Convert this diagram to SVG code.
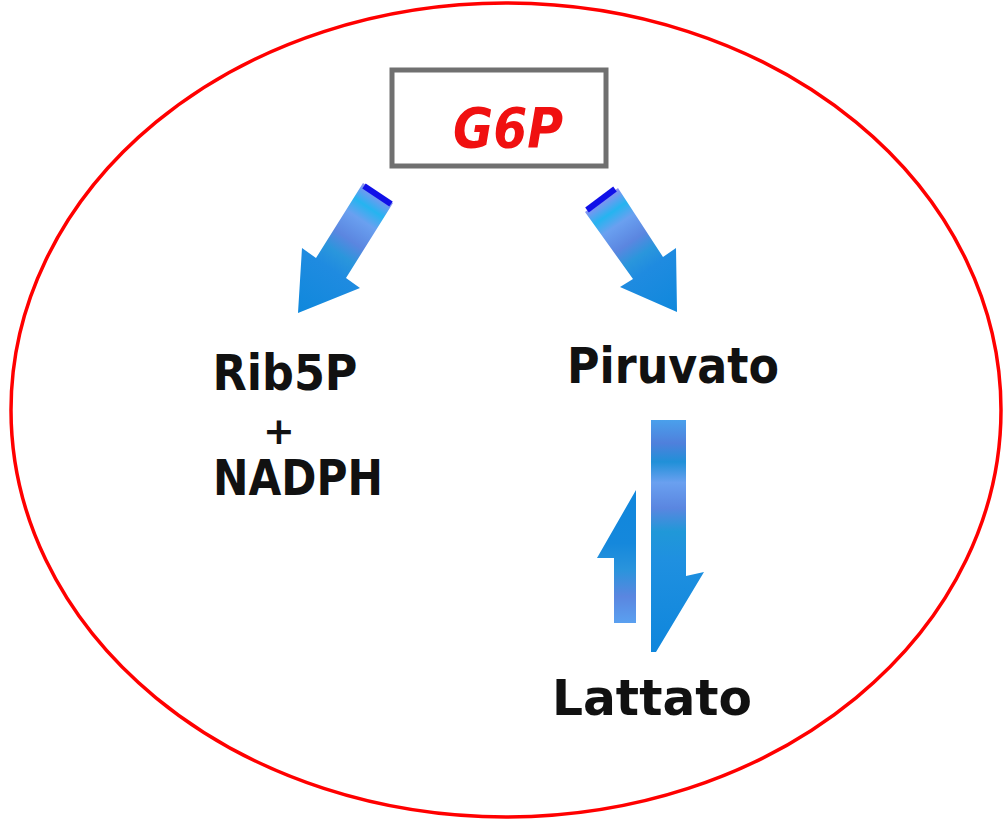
<svg xmlns="http://www.w3.org/2000/svg" width="1003" height="821" viewBox="0 0 1003 821">
<style>
.lbl{font-family:"Comic Sans MS","DejaVu Sans",sans-serif;font-weight:bold;fill:#111;font-size:50px}
.g6p{font-family:"Comic Sans MS","DejaVu Sans",sans-serif;font-weight:bold;font-style:italic;fill:#f01010;font-size:56px}
.cap{stroke:#1010e8;stroke-width:6;stroke-linecap:butt}
</style>
<defs>
<linearGradient id="gL" gradientUnits="userSpaceOnUse" x1="378" y1="193" x2="298" y2="313">
<stop offset="0" stop-color="#8f8ff0"/><stop offset="0.12" stop-color="#25b4f0"/><stop offset="0.22" stop-color="#6aa0f0"/><stop offset="0.38" stop-color="#5b86e0"/><stop offset="0.5" stop-color="#2a96dc"/><stop offset="0.62" stop-color="#1f8be0"/><stop offset="1" stop-color="#0f88dc"/>
</linearGradient>
<linearGradient id="gR" gradientUnits="userSpaceOnUse" x1="601" y1="200" x2="677" y2="312">
<stop offset="0" stop-color="#8f8ff0"/><stop offset="0.12" stop-color="#25b4f0"/><stop offset="0.22" stop-color="#6aa0f0"/><stop offset="0.38" stop-color="#5b86e0"/><stop offset="0.5" stop-color="#2a96dc"/><stop offset="0.62" stop-color="#1f8be0"/><stop offset="1" stop-color="#0f88dc"/>
</linearGradient>
<linearGradient id="gD" gradientUnits="userSpaceOnUse" x1="0" y1="420" x2="0" y2="652">
<stop offset="0" stop-color="#4aa0ec"/><stop offset="0.1" stop-color="#4f80dc"/><stop offset="0.18" stop-color="#2090d8"/><stop offset="0.27" stop-color="#6aa0f0"/><stop offset="0.38" stop-color="#5a86e0"/><stop offset="0.48" stop-color="#2098d8"/><stop offset="0.6" stop-color="#1f90e0"/><stop offset="1" stop-color="#0f86dc"/>
</linearGradient>
<linearGradient id="gU" gradientUnits="userSpaceOnUse" x1="0" y1="623" x2="0" y2="490">
<stop offset="0" stop-color="#5aa0f0"/><stop offset="0.2" stop-color="#5a86e0"/><stop offset="0.4" stop-color="#2a94dc"/><stop offset="0.6" stop-color="#1588dc"/><stop offset="1" stop-color="#0f86dc"/>
</linearGradient>
</defs>
<rect width="1003" height="821" fill="#fff"/>
<ellipse cx="506" cy="410" rx="495" ry="407" fill="none" stroke="#f00" stroke-width="3.5"/>
<g id="g6p">
<rect x="392" y="70" width="214" height="96" fill="#fff" stroke="#707070" stroke-width="5"/>
<text class="g6p" x="508" y="147" text-anchor="middle" textLength="110" lengthAdjust="spacingAndGlyphs">G6P</text>
</g>
<g id="rib5p">
<text class="lbl" x="285" y="390" text-anchor="middle" textLength="145" lengthAdjust="spacingAndGlyphs">Rib5P</text>
<text class="lbl" x="279" y="444" text-anchor="middle" style="font-size:38px">+</text>
<text class="lbl" x="298" y="495" text-anchor="middle" textLength="170" lengthAdjust="spacingAndGlyphs">NADPH</text>
</g>
<g id="piruvato">
<text class="lbl" x="673" y="383" text-anchor="middle" textLength="212" lengthAdjust="spacingAndGlyphs">Piruvato</text>
</g>
<g id="lattato">
<text class="lbl" x="652" y="715" text-anchor="middle" textLength="200" lengthAdjust="spacingAndGlyphs">Lattato</text>
</g>
<g id="connectors">
<polygon points="363,183 393,203 346,278 360,288 298,313 302,248 316,258" fill="url(#gL)"/>
<line class="cap" x1="364" y1="186" x2="391" y2="204"/>
<polygon points="585,212 618,188 663,257 676,248 677,312 620,287 633,279" fill="url(#gR)"/>
<line class="cap" x1="587" y1="210" x2="615" y2="189"/>
<polygon points="636,490 636,623 614,623 614,558 597,558" fill="url(#gU)"/>
<polygon points="651,420 686,420 686,576 704,572 656,652 651,652" fill="url(#gD)"/>
</g>
</svg>
